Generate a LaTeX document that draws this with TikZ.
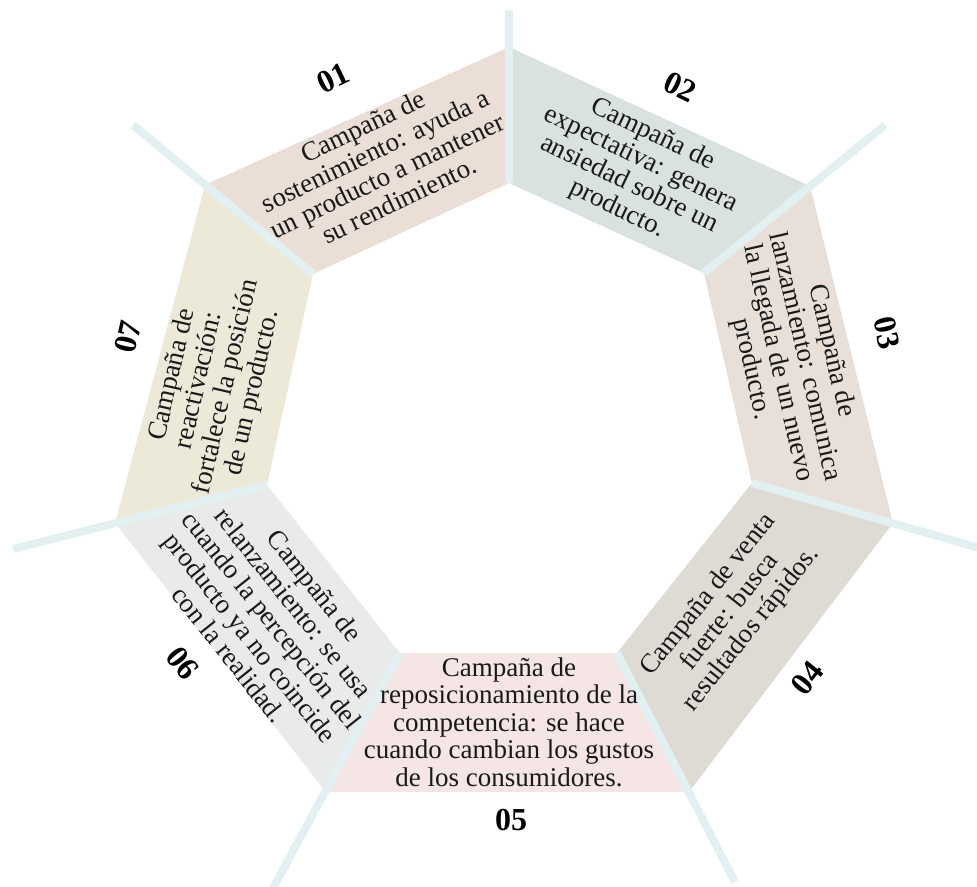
\documentclass[tikz,border=0pt]{standalone}
\usepackage{fontspec}
\setmainfont{Liberation Serif}
\definecolor{cA}{RGB}{234,222,214}
\definecolor{cB}{RGB}{217,226,222}
\definecolor{cC}{RGB}{232,223,216}
\definecolor{cD}{RGB}{222,219,212}
\definecolor{cE}{RGB}{245,229,229}
\definecolor{cF}{RGB}{232,235,234}
\definecolor{cG}{RGB}{237,233,217}
\definecolor{sepc}{RGB}{227,240,242}
\definecolor{txtc}{RGB}{25,25,25}
\begin{document}
\begin{tikzpicture}[x=1pt,y=-1pt,
  segfill/.style={fill=#1,draw=none},
  sepline/.style={draw=sepc,line width=8pt},
  txt/.style={align=center,font=\fontsize{27}{27.5}\selectfont,text=txtc,inner sep=0pt},
  num/.style={font=\bfseries\fontsize{32}{32}\selectfont,text=black,inner sep=0pt}]
\useasboundingbox (0,0) rectangle (977,886);
% inner vertices
\coordinate (I0) at (509,183);
\coordinate (I1) at (313,274);
\coordinate (I2) at (267,485);
\coordinate (I3) at (400,653);
\coordinate (I4) at (617,653);
\coordinate (I5) at (752,483);
\coordinate (I6) at (704,273);
% outer vertices
\coordinate (O0) at (509,47);
\coordinate (O1) at (205,185);
\coordinate (O2) at (115,523);
\coordinate (O3) at (326,792);
\coordinate (O4) at (689,792);
\coordinate (O5) at (893,523);
\coordinate (O6) at (810,186);
% separator ends
\coordinate (E0) at (509,10);
\coordinate (E1) at (133,125);
\coordinate (E2) at (13,549);
\coordinate (E3) at (271,892);
\coordinate (E4) at (735,882);
\coordinate (E5) at (990,551);
\coordinate (E6) at (885,125);
% segments
\path[segfill=cA] (I0) -- (I1) -- (O1) -- (O0) -- cycle;
\path[segfill=cB] (I0) -- (O0) -- (O6) -- (I6) -- cycle;
\path[segfill=cC] (I6) -- (O6) -- (O5) -- (I5) -- cycle;
\path[segfill=cD] (I5) -- (O5) -- (O4) -- (I4) -- cycle;
\path[segfill=cE] (I4) -- (O4) -- (O3) -- (I3) -- cycle;
\path[segfill=cF] (I3) -- (O3) -- (O2) -- (I2) -- cycle;
\path[segfill=cG] (I2) -- (O2) -- (O1) -- (I1) -- cycle;
% separators
\foreach \k in {0,...,6} { \draw[sepline] (I\k) -- (E\k); }
% texts
\node[txt,rotate=25.71] (t1) at (381,163) {Campaña de\\sostenimiento: ayuda a\\un producto a mantener\\su rendimiento.};
\node[txt,rotate=-25.71] (t2) at (635,172) {Campaña de\\expectativa: genera\\ansiedad sobre un\\producto.};
\node[txt,rotate=-77.14] (t3) at (791,360) {Campaña de\\lanzamiento: comunica\\la llegada de un nuevo\\producto.};
\node[txt,rotate=51.43] (t4) at (730,612) {Campaña de venta\\fuerte: busca\\resultados rápidos.};
\node[txt] (t5) at (509,722) {Campaña de\\reposicionamiento de la\\competencia: se hace\\cuando cambian los gustos\\de los consumidores.};
\node[txt,rotate=-51.43] (t6) at (272,620) {Campaña de\\relanzamiento: se usa\\cuando la percepción del\\producto ya no coincide\\con la realidad.};
\node[txt,rotate=77.14] (t7) at (213,384) {Campaña de\\reactivación:\\fortalece la posición\\de un producto.};
% numbers
\node[num,rotate=25.71] (n1) at (333,78) {01};
\node[num,rotate=-25.71] (n2) at (680,87) {02};
\node[num,rotate=-77.14] (n3) at (887,333) {03};
\node[num,rotate=51.43] (n4) at (807,678) {04};
\node[num] (n5) at (511,820) {05};
\node[num,rotate=-51.43] (n6) at (183,663) {06};
\node[num,rotate=77.14] (n7) at (128,337) {07};
\end{tikzpicture}
\end{document}
